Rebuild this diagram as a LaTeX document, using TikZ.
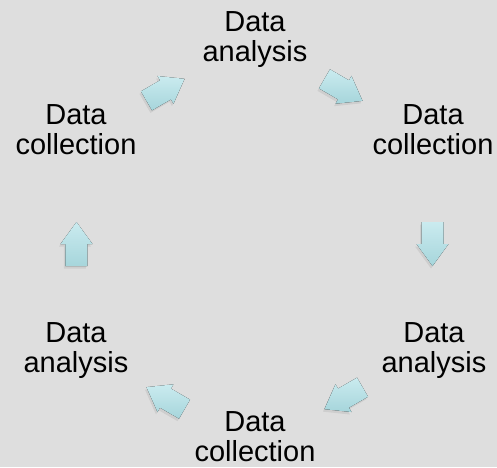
\documentclass[tikz,border=0pt]{standalone}
\usepackage{fontspec}
\setmainfont{Liberation Sans}
\definecolor{bggray}{RGB}{222,222,222}
\definecolor{cyclelight}{RGB}{202,235,239}
\definecolor{cycledark}{RGB}{166,213,219}

\begin{document}
\begin{tikzpicture}[
  x=1pt, y=1pt,
  steplabel/.style={align=center, anchor=north, inner sep=0pt, font=\fontsize{29}{29.5}\selectfont},
  blockarrow/.style={top color=cyclelight, bottom color=cycledark, draw=none}
]
  % background, fixes the margins
  \fill[bggray] (-254.5,-223) rectangle (242.5,244);
  % labels, clockwise from the top
  \node[steplabel] (topanalysis) at (0.5,232.6) {Data\\analysis};
  \node[steplabel] (rightcollection) at (178.5,139.6) {Data\\collection};
  \node[steplabel] (rightanalysis) at (179.5,-78.4) {Data\\analysis};
  \node[steplabel] (bottomcollection) at (0.5,-167.6) {Data\\collection};
  \node[steplabel] (leftanalysis) at (-178.5,-78.4) {Data\\analysis};
  \node[steplabel] (leftcollection) at (-178.5,139.6) {Data\\collection};
  % block arrows round the cycle
  \foreach \a in {0,60,...,300} {
    \fill[black, opacity=.07, shift={(\a:178)}, shift={(-1.5,-2.5)}, rotate=\a-90]
      (-22,-11) -- (0,-11) -- (0,-16) -- (22,0) -- (0,16) -- (0,11) -- (-22,11) -- cycle;
    \fill[blockarrow, shift={(\a:178)}, rotate=\a-90]
      (-22,-11) -- (0,-11) -- (0,-16) -- (22,0) -- (0,16) -- (0,11) -- (-22,11) -- cycle;
  }
\end{tikzpicture}
\end{document}
